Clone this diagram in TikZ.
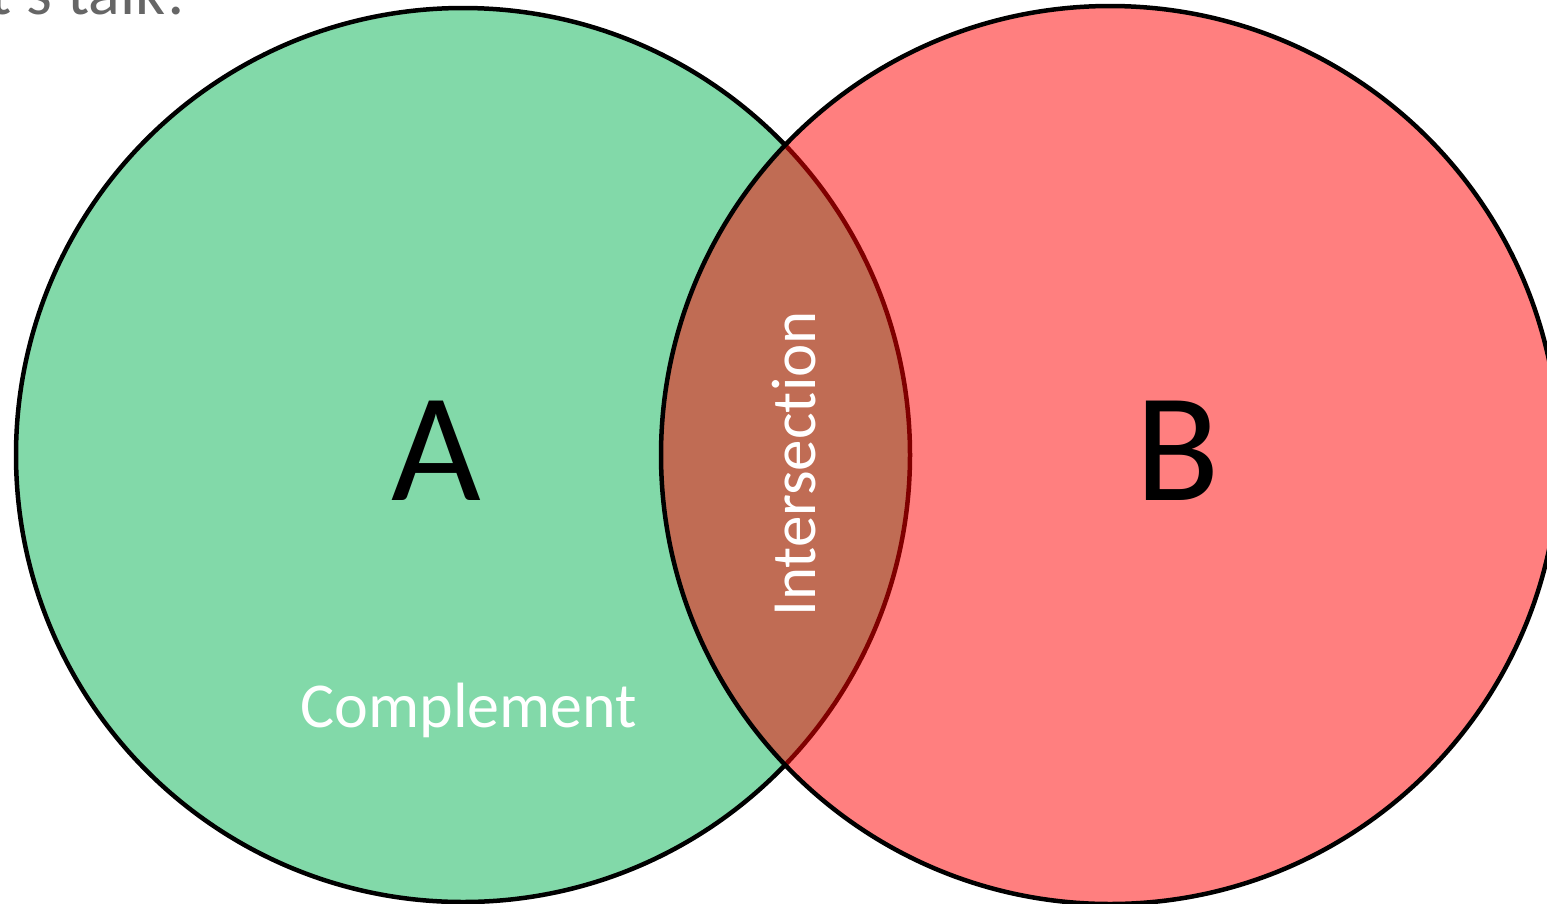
\documentclass[tikz,border=0pt]{standalone}
\usepackage{fontspec}
\setmainfont{Carlito}[Ligatures=NoCommon]
\definecolor{setA}{RGB}{130,217,169}
\definecolor{titlegrey}{RGB}{102,102,102}
\tikzset{
  setline/.style={line width=4.5pt},
  biglabel/.style={font=\fontsize{155}{155}\selectfont, text=black, inner sep=0pt},
  smalllabel/.style={font=\fontsize{64}{64}\selectfont, text=white, inner sep=0pt}
}
\begin{document}
\begin{tikzpicture}[x=1pt,y=-1pt]
\clip (0,0) rectangle (1547,903);
\fill[white] (0,0) rectangle (1547,903);
\node[anchor=base east, font=\fontsize{66}{66}\selectfont, text=titlegrey, inner sep=0pt] (title) at (187,14) {Let's talk!};
% set A
\draw[setline, fill=setA] (463,455) circle[radius=447];
\coordinate (cA) at (463,455);
% set B
\fill[red, fill opacity=0.5] (1110,455) circle[radius=449];
\draw[setline] (1110,455) circle[radius=449];
\coordinate (cB) at (1110,455);
% labels
\node[biglabel, anchor=base] (la) at (436,500) {A};
\node[biglabel, anchor=base] (lb) at (1178,500) {B};
\node[smalllabel, anchor=base] (comp) at (469,727) {Complement};
\node[smalllabel, anchor=base, rotate=90, font=\fontsize{63}{63}\selectfont] (inter) at (815,464) {Intersection};
\end{tikzpicture}
\end{document}
